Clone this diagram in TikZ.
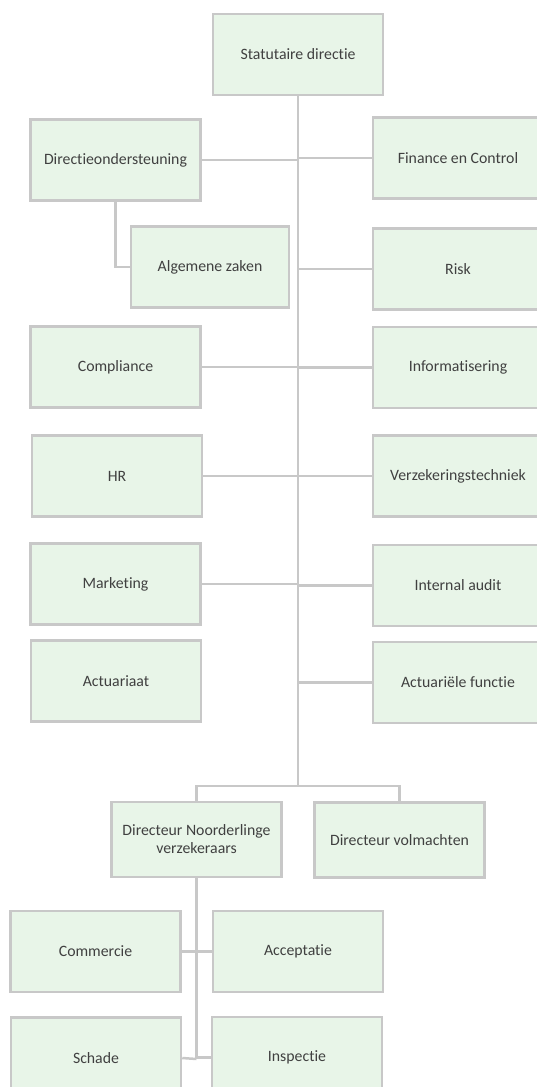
\documentclass[tikz,border=0pt]{standalone}
\usepackage{fontspec}
\setmainfont[Ligatures=NoCommon]{Carlito}
\usetikzlibrary{positioning}
\definecolor{boxgreen}{RGB}{232,245,232}
\definecolor{linegray}{RGB}{200,200,200}
\definecolor{textgray}{RGB}{64,64,64}
\begin{document}
\begin{tikzpicture}[x=1pt, y=-1pt, line width=2.5pt, linegray,
    main/.style = {draw=linegray, fill=boxgreen, text=textgray, minimum width=170pt, minimum height=81pt, inner sep=2pt, align=center, font=\fontsize{15.8}{18}\selectfont}]
    \clip (0,0) rectangle (537,1087);
    \node[main] (1) at (298,54.5) {Statutaire directie};
    \node[main] (2) at (115.5,160) {Directieondersteuning};
    \node[main] (3) at (458,158) {Finance en Control};
    \node[main, minimum width=158pt] (4) at (210,267) {Algemene zaken};
    \node[main] (5) at (458,269) {Risk};
    \node[main] (6) at (115.5,367) {Compliance};
    \node[main] (7) at (458,367.5) {Informatisering};
    \node[main] (8) at (117,476) {HR};
    \node[main] (9) at (458,476) {Verzekeringstechniek};
    \node[main] (10) at (115.5,584) {Marketing};
    \node[main] (11) at (458,585.5) {Internal audit};
    \node[main] (12) at (116,681) {Actuariaat};
    \node[main] (13) at (458,682.5) {Actuariële functie};
    \node[main, minimum height=75pt] (14) at (196.5,839.5) {Directeur Noorderlinge\\verzekeraars};
    \node[main, minimum height=75pt] (15) at (399.5,840) {Directeur volmachten};
    \node[main] (16) at (95.5,951.5) {Commercie};
    \node[main] (17) at (298,951.5) {Acceptatie};
    \node[main] (18) at (96,1058) {Schade};
    \node[main] (19) at (297,1057.5) {Inspectie};
    \coordinate (t) at (298,786);
    \coordinate (b) at (196.5,1059);
    %Statutaire directie
    \draw (1) -- (t);
    \draw (2.east) -- (2.east -| 1);
    \draw (3.west) -- (3.west -| 1);
    \draw (2) |- (4);
    \draw (5.west) -- (5.west -| 1);
    \draw (6.east) -- (6.east -| 1);
    \draw (7.west) -- (7.west -| 1);
    \draw (8.east) -- (8.east -| 1);
    \draw (9.west) -- (9.west -| 1);
    \draw (10.east) -- (10.east -| 1);
    \draw (11.west) -- (11.west -| 1);
    \draw (13.west) -- (13.west -| 1);
    \draw (t) -| (14);
    \draw (t) -| (15);
    %Noorderlinge
    \draw (14) -- (b);
    \draw (16.east) -- (16.east -| 14);
    \draw (17.west) -- (17.west -| 14);
    \draw (18.east) -- (b);
    \draw (19.west) -- (19.west -| 14);
\end{tikzpicture}
\end{document}
